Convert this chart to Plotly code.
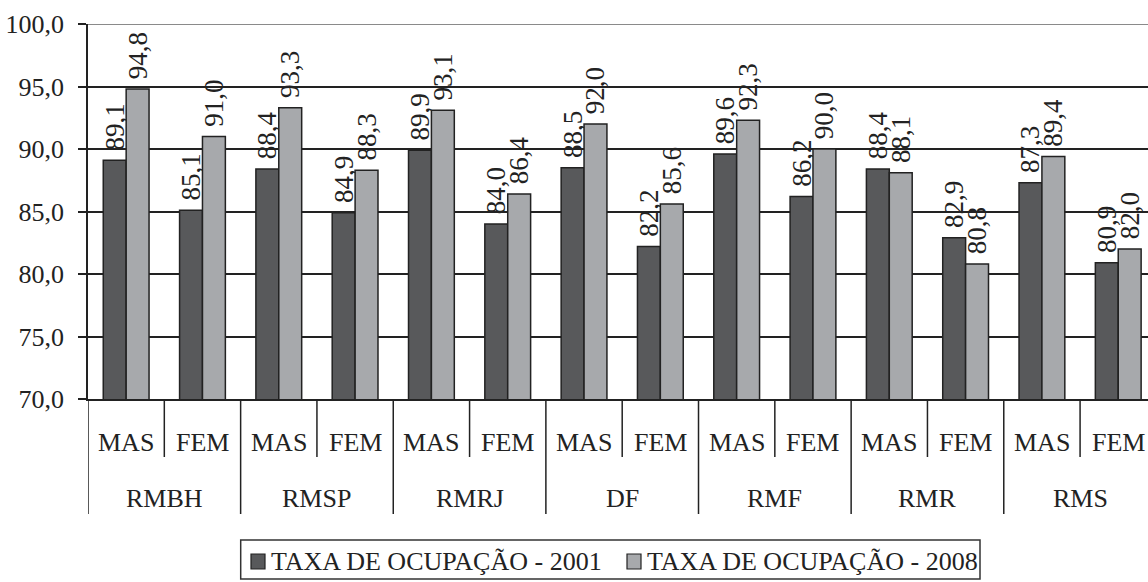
import plotly.graph_objects as go

regions = ["RMBH", "RMSP", "RMRJ", "DF", "RMF", "RMR", "RMS"]
sexes = ["MAS", "FEM"]
taxa_2001 = [89.1, 85.1, 88.4, 84.9, 89.9, 84.0, 88.5, 82.2, 89.6, 86.2, 88.4, 82.9, 87.3, 80.9]
taxa_2008 = [94.8, 91.0, 93.3, 88.3, 93.1, 86.4, 92.0, 85.6, 92.3, 90.0, 88.1, 80.8, 89.4, 82.0]
series_names = ["TAXA DE OCUPAÇÃO - 2001", "TAXA DE OCUPAÇÃO - 2008"]
series_colors = ["#58595b", "#a7a9ac"]
y_ticks = [70, 75, 80, 85, 90, 95, 100]

x_keys = [f"{r} {s}" for r in regions for s in sexes]

FONT = "Liberation Serif"
INK = "#222222"
W, H = 1148, 582
ML, MT, MB = 88, 24, 183
PW, PH = W - ML, H - MT - MB


def px_x(px):
    return (px - ML) / PW


def px_y(py):
    return (MT + PH - py) / PH


fig = go.Figure()
for name, vals, color in zip(series_names, [taxa_2001, taxa_2008], series_colors):
    fig.add_trace(go.Bar(
        x=x_keys, y=vals, name=name,
        marker=dict(color=color, line=dict(color=INK, width=1.5)),
        texttemplate="\u00a0%{y:.1f}", textposition="outside", textangle=-90,
        constraintext="none", cliponaxis=False,
        textfont=dict(family=FONT, size=27, color=INK),
        showlegend=False,
    ))

fig.update_layout(
    width=W, height=H,
    margin=dict(l=ML, r=0, t=MT, b=MB),
    paper_bgcolor="white", plot_bgcolor="white",
    separators=", ",
    barmode="group", bargap=0.4, bargroupgap=0,
    font=dict(family=FONT, size=26, color=INK),
)
fig.update_xaxes(
    type="category", range=[-0.5, 13.39],
    showline=True, linecolor=INK, linewidth=1.5,
    showticklabels=False, ticks="",
)
fig.update_yaxes(
    range=[70, 100], tickvals=y_ticks, tickformat=".1f",
    showline=True, linecolor=INK, linewidth=1.5,
    ticks="outside", ticklen=8, tickcolor=INK, tickwidth=1.5,
    ticklabelstandoff=9,
    showgrid=True, gridcolor=INK, gridwidth=1.5,
    tickfont=dict(family=FONT, size=26, color=INK),
    zeroline=False,
)
# top gridline (lighter)
fig.add_shape(type="line", xref="paper", yref="y", x0=0, x1=1, y0=100, y1=100,
              line=dict(color="#8a8a8a", width=2))

# category axis labels and dividers
for i, key in enumerate(x_keys):
    sex = sexes[i % 2]
    fig.add_annotation(x=i, y=px_y(442), xref="x", yref="paper", text=sex,
                       showarrow=False, yanchor="middle", xanchor="center",
                       font=dict(family=FONT, size=26, color=INK))
for j, reg in enumerate(regions):
    fig.add_annotation(x=2 * j + 0.5, y=px_y(498), xref="x", yref="paper", text=reg,
                       showarrow=False, yanchor="middle", xanchor="center",
                       font=dict(family=FONT, size=26, color=INK))
    # inner divider between MAS and FEM
    fig.add_shape(type="line", xref="x", yref="paper", x0=2 * j + 0.5, x1=2 * j + 0.5,
                  y0=0, y1=px_y(457), line=dict(color=INK, width=1.5))
    # outer divider at group start
    fig.add_shape(type="line", xref="x", yref="paper", x0=2 * j - 0.5, x1=2 * j - 0.5,
                  y0=0, y1=px_y(514), line=dict(color=INK, width=1.5))

# legend
fig.add_shape(type="rect", xref="paper", yref="paper",
              x0=px_x(240.7), x1=px_x(980), y0=px_y(540), y1=px_y(579),
              line=dict(color="#333333", width=1.5), fillcolor="rgba(0,0,0,0)")
legend_sq = [(251, 265), (627, 641)]
legend_tx = [269, 645]
for (sx0, sx1), tx, name, color in zip(legend_sq, legend_tx, series_names, series_colors):
    fig.add_shape(type="rect", xref="paper", yref="paper",
                  x0=px_x(sx0), x1=px_x(sx1), y0=px_y(554), y1=px_y(569),
                  line=dict(color=INK, width=1.2), fillcolor=color)
    fig.add_annotation(x=px_x(tx), y=px_y(561), xref="paper", yref="paper", text=name,
                       showarrow=False, xanchor="left", yanchor="middle",
                       font=dict(family=FONT, size=26, color=INK))

fig.write_html("out.html", config={"displayModeBar": False},
               post_script="document.body.style.margin='0';")
